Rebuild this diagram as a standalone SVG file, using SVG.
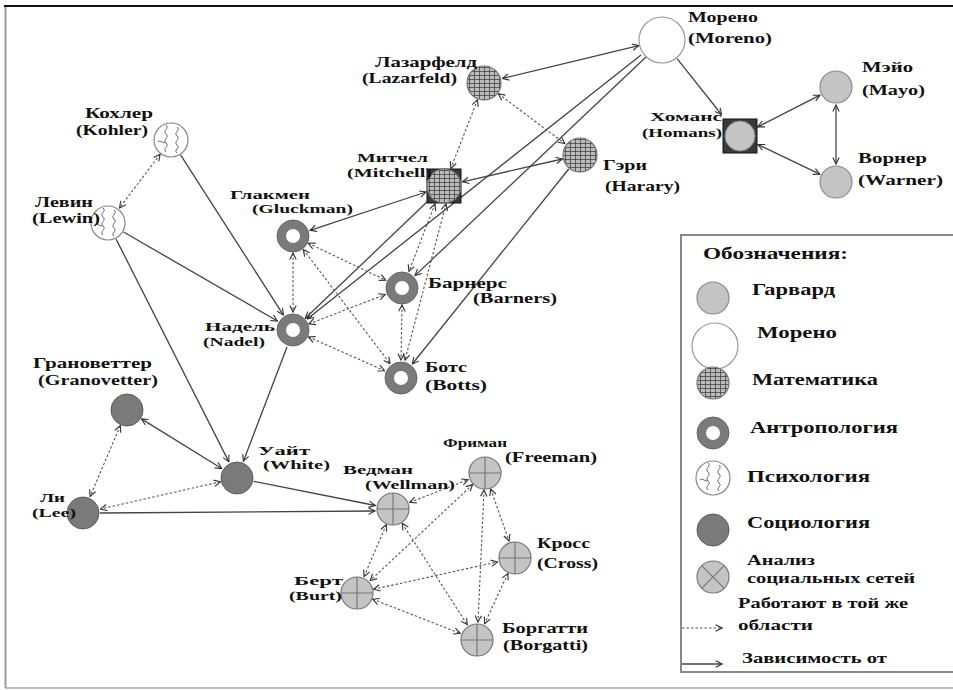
<svg xmlns="http://www.w3.org/2000/svg" width="953" height="690" viewBox="0 0 953 690">
<style>
.lbl{font-family:"Liberation Serif","DejaVu Serif",serif;font-weight:bold;font-size:15px;fill:#111}
.sm{font-size:13.5px}
.leg{font-family:"Liberation Serif","DejaVu Serif",serif;font-weight:bold;font-size:16px;fill:#111}
.dep{stroke:#444;stroke-width:1.3;fill:none}
.same{stroke:#555;stroke-width:1.1;stroke-dasharray:2.5 2;fill:none}
.one{marker-end:url(#ah)}
.two{marker-start:url(#ah);marker-end:url(#ah)}
</style>
<defs>
<marker id="ah" viewBox="0 0 10 10" refX="9" refY="5" markerWidth="8" markerHeight="8" markerUnits="userSpaceOnUse" orient="auto-start-reverse">
<path d="M1,1 L9,5 L1,9" fill="none" stroke="#333" stroke-width="1.4"/>
</marker>
<pattern id="grid" patternUnits="userSpaceOnUse" width="5" height="4">
<rect width="5" height="4" fill="#bcbcbc"/>
<path d="M0,0.5 H5 M0.5,0 V4" stroke="#444" stroke-width="0.8"/>
</pattern>
<g id="s-harv"><circle r="16" fill="#c4c4c4" stroke="#8a8a8a" stroke-width="1.2"/></g>
<g id="s-mor"><circle r="23" fill="#fff" stroke="#999" stroke-width="1.2"/></g>
<g id="s-math"><circle r="17" fill="url(#grid)" stroke="#777" stroke-width="1.2"/></g>
<g id="s-anth"><circle r="16" fill="#7a7a7a" stroke="#666" stroke-width="1"/><circle r="7" fill="#fff"/></g>
<g id="s-psy"><circle r="17" fill="#fff" stroke="#888" stroke-width="1.2"/>
<path d="M-5,-15 c4,3 -4,6 0,9 s-4,6 0,9 s-4,6 0,9" fill="none" stroke="#666" stroke-width="1"/>
<path d="M6,-13 c4,3 -4,6 0,9 s-4,6 0,9 s-4,5 0,8" fill="none" stroke="#666" stroke-width="1"/>
<path d="M-13,2 c3,-3 5,3 8,0" fill="none" stroke="#666" stroke-width="1"/></g>
<g id="s-soc"><circle r="16" fill="#7a7a7a" stroke="#5a5a5a" stroke-width="1"/></g>
<g id="s-sna"><circle r="16" fill="#c4c4c4" stroke="#777" stroke-width="1.2"/><path d="M0,-16 V16 M-16,0 H16" stroke="#777" stroke-width="1.2"/></g>
<g id="s-snax"><circle r="16" fill="#c4c4c4" stroke="#777" stroke-width="1.2"/><path d="M-11.3,-11.3 L11.3,11.3 M-11.3,11.3 L11.3,-11.3" stroke="#777" stroke-width="1.2"/></g>
</defs>
<rect width="953" height="690" fill="#fff"/>
<g id="frame">
<line x1="4" y1="6" x2="953" y2="6" stroke="#111" stroke-width="2.2"/>
<line x1="5.5" y1="7" x2="5.5" y2="688" stroke="#999" stroke-width="2"/>
<line x1="5" y1="688" x2="953" y2="688" stroke="#aaa" stroke-width="1.5"/>
</g>
<g id="connectors">
<line class="dep two" x1="638.7" y1="45.6" x2="502.5" y2="78.5"/>
<line class="dep one" x1="677.1" y1="58.6" x2="721.5" y2="114.5"/>
<line class="dep one" x1="646" y1="57" x2="415" y2="275.6"/>
<line class="dep one" x1="641" y1="55" x2="307.2" y2="318.9"/>
<line class="dep one" x1="568.7" y1="169" x2="412.3" y2="364"/>
<line class="dep two" x1="426" y1="192" x2="310.1" y2="230.3"/>
<line class="dep two" x1="462.5" y1="181.8" x2="562.4" y2="159"/>
<line class="same two" x1="477.5" y1="99.8" x2="450.9" y2="168.3"/>
<line class="same two" x1="498.4" y1="93.8" x2="564.8" y2="143.6"/>
<line class="same two" x1="435" y1="204" x2="408.9" y2="271.4"/>
<line class="same two" x1="446" y1="204" x2="404.9" y2="360.4"/>
<line class="dep one" x1="428" y1="201" x2="305.3" y2="318.3"/>
<line class="same two" x1="293" y1="253" x2="293" y2="312"/>
<line class="same two" x1="308.3" y1="243.3" x2="385.8" y2="280.3"/>
<line class="same two" x1="303.3" y1="249.5" x2="390.1" y2="363.7"/>
<line class="same two" x1="308.9" y1="323.9" x2="385.2" y2="294.5"/>
<line class="same two" x1="308.5" y1="336.9" x2="384.5" y2="370.7"/>
<line class="same two" x1="402" y1="305" x2="401" y2="360"/>
<line class="same two" x1="160.1" y1="154.3" x2="119.5" y2="207.9"/>
<line class="dep one" x1="180.7" y1="155.1" x2="283.3" y2="314.9"/>
<line class="dep one" x1="123.6" y1="232" x2="277.4" y2="321"/>
<line class="dep one" x1="116.1" y1="239.1" x2="228.9" y2="461.9"/>
<line class="dep one" x1="287" y1="347" x2="243.4" y2="461.2"/>
<line class="dep two" x1="141.5" y1="418.9" x2="221.7" y2="468.5"/>
<line class="same two" x1="120.3" y1="425.6" x2="90.1" y2="496.4"/>
<line class="same two" x1="220.4" y1="481.8" x2="100.6" y2="509"/>
<line class="dep one" x1="253.7" y1="481.3" x2="375.3" y2="505.5"/>
<line class="dep one" x1="100" y1="513" x2="375" y2="511"/>
<line class="same two" x1="409.8" y1="502.4" x2="468.2" y2="479.6"/>
<line class="same two" x1="386.3" y1="524.6" x2="364.1" y2="576.5"/>
<line class="same two" x1="402.2" y1="523.3" x2="467.3" y2="624.8"/>
<line class="same two" x1="472.6" y1="484.6" x2="370.1" y2="580.7"/>
<line class="same two" x1="484" y1="490" x2="478" y2="622"/>
<line class="same two" x1="490.7" y1="489" x2="509" y2="541"/>
<line class="same two" x1="373.6" y1="589.3" x2="497.4" y2="561.9"/>
<line class="same two" x1="372.8" y1="599.2" x2="460.2" y2="633.4"/>
<line class="same two" x1="507.9" y1="573.4" x2="484.6" y2="623.7"/>
<line class="dep two" x1="757.8" y1="126.9" x2="820" y2="95.2"/>
<line class="dep two" x1="758" y1="144.6" x2="819.8" y2="174.2"/>
<line class="dep two" x1="836" y1="105" x2="836" y2="164"/>
</g>
<g id="moreno"><use href="#s-mor" x="662" y="40"/>
<text class="lbl" x="688" y="22" textLength="70" lengthAdjust="spacingAndGlyphs">Морено</text>
<text class="lbl" x="688" y="43" textLength="84" lengthAdjust="spacingAndGlyphs">(Moreno)</text></g>
<g id="lazarfeld"><use href="#s-math" x="484" y="83"/>
<text class="lbl" x="375" y="67" textLength="102" lengthAdjust="spacingAndGlyphs">Лазарфелд</text>
<text class="lbl" x="362" y="83" textLength="95" lengthAdjust="spacingAndGlyphs">(Lazarfeld)</text></g>
<g id="mitchell"><rect x="427" y="169" width="34" height="34" fill="#3a3a3a" stroke="#111"/><use href="#s-math" x="444" y="186"/>
<text class="lbl sm" x="357" y="162" textLength="71" lengthAdjust="spacingAndGlyphs">Митчел</text>
<text class="lbl sm" x="347" y="177" textLength="85" lengthAdjust="spacingAndGlyphs">(Mitchell)</text></g>
<g id="harary"><use href="#s-math" x="580" y="155"/>
<text class="lbl" x="603" y="170" textLength="44" lengthAdjust="spacingAndGlyphs">Гэри</text>
<text class="lbl" x="605" y="191" textLength="75" lengthAdjust="spacingAndGlyphs">(Harary)</text></g>
<g id="homans"><rect x="723" y="119" width="34" height="34" fill="#3a3a3a" stroke="#111"/><circle cx="740" cy="136" r="15" fill="#c4c4c4" stroke="#8a8a8a"/>
<text class="lbl sm" x="650" y="121" textLength="72" lengthAdjust="spacingAndGlyphs">Хоманс</text>
<text class="lbl sm" x="642" y="137" textLength="80" lengthAdjust="spacingAndGlyphs">(Homans)</text></g>
<g id="mayo"><use href="#s-harv" x="836" y="87"/>
<text class="lbl" x="862" y="72" textLength="51" lengthAdjust="spacingAndGlyphs">Мэйо</text>
<text class="lbl" x="862" y="95" textLength="63" lengthAdjust="spacingAndGlyphs">(Mayo)</text></g>
<g id="warner"><use href="#s-harv" x="836" y="182"/>
<text class="lbl" x="858" y="163" textLength="69" lengthAdjust="spacingAndGlyphs">Ворнер</text>
<text class="lbl" x="858" y="185" textLength="85" lengthAdjust="spacingAndGlyphs">(Warner)</text></g>
<g id="kohler"><use href="#s-psy" x="171" y="140"/>
<text class="lbl" x="85" y="118" textLength="68" lengthAdjust="spacingAndGlyphs">Кохлер</text>
<text class="lbl" x="76" y="135" textLength="72" lengthAdjust="spacingAndGlyphs">(Kohler)</text></g>
<g id="lewin"><use href="#s-psy" x="108" y="223"/>
<text class="lbl" x="35" y="207" textLength="58" lengthAdjust="spacingAndGlyphs">Левин</text>
<text class="lbl" x="32" y="223" textLength="68" lengthAdjust="spacingAndGlyphs">(Lewin)</text></g>
<g id="gluckman"><use href="#s-anth" x="293" y="236"/>
<text class="lbl sm" x="230" y="199" textLength="80" lengthAdjust="spacingAndGlyphs">Глакмен</text>
<text class="lbl sm" x="252" y="213" textLength="101" lengthAdjust="spacingAndGlyphs">(Gluckman)</text></g>
<g id="nadel"><use href="#s-anth" x="293" y="330"/>
<text class="lbl sm" x="205" y="331" textLength="70" lengthAdjust="spacingAndGlyphs">Надель</text>
<text class="lbl sm" x="203" y="346" textLength="62" lengthAdjust="spacingAndGlyphs">(Nadel)</text></g>
<g id="barners"><use href="#s-anth" x="402" y="288"/>
<text class="lbl" x="428" y="288" textLength="79" lengthAdjust="spacingAndGlyphs">Барнерс</text>
<text class="lbl" x="473" y="303" textLength="84" lengthAdjust="spacingAndGlyphs">(Barners)</text></g>
<g id="botts"><use href="#s-anth" x="401" y="378"/>
<text class="lbl" x="425" y="372" textLength="42" lengthAdjust="spacingAndGlyphs">Ботс</text>
<text class="lbl" x="425" y="390" textLength="62" lengthAdjust="spacingAndGlyphs">(Botts)</text></g>
<g id="granovetter"><use href="#s-soc" x="127" y="410"/>
<text class="lbl" x="33" y="368" textLength="119" lengthAdjust="spacingAndGlyphs">Грановеттер</text>
<text class="lbl" x="38" y="385" textLength="120" lengthAdjust="spacingAndGlyphs">(Granovetter)</text></g>
<g id="white"><use href="#s-soc" x="237" y="478"/>
<text class="lbl sm" x="258" y="455" textLength="52" lengthAdjust="spacingAndGlyphs">Уайт</text>
<text class="lbl sm" x="263" y="469" textLength="67" lengthAdjust="spacingAndGlyphs">(White)</text></g>
<g id="lee"><use href="#s-soc" x="83" y="513"/>
<text class="lbl sm" x="40" y="502" textLength="25" lengthAdjust="spacingAndGlyphs">Ли</text>
<text class="lbl sm" x="32" y="517" textLength="44" lengthAdjust="spacingAndGlyphs">(Lee)</text></g>
<g id="wellman"><use href="#s-sna" x="393" y="509"/>
<text class="lbl sm" x="343" y="474" textLength="70" lengthAdjust="spacingAndGlyphs">Ведман</text>
<text class="lbl sm" x="365" y="489" textLength="90" lengthAdjust="spacingAndGlyphs">(Wellman)</text></g>
<g id="freeman"><use href="#s-sna" x="485" y="473"/>
<text class="lbl sm" x="443" y="447" textLength="64" lengthAdjust="spacingAndGlyphs">Фриман</text>
<text class="lbl" x="505" y="462" textLength="92" lengthAdjust="spacingAndGlyphs">(Freeman)</text></g>
<g id="cross"><use href="#s-sna" x="515" y="558"/>
<text class="lbl" x="537" y="548" textLength="53" lengthAdjust="spacingAndGlyphs">Кросс</text>
<text class="lbl" x="537" y="568" textLength="61" lengthAdjust="spacingAndGlyphs">(Cross)</text></g>
<g id="burt"><use href="#s-sna" x="357" y="593"/>
<text class="lbl sm" x="294" y="585" textLength="49" lengthAdjust="spacingAndGlyphs">Берт</text>
<text class="lbl sm" x="289" y="600" textLength="53" lengthAdjust="spacingAndGlyphs">(Burt)</text></g>
<g id="borgatti"><use href="#s-sna" x="477" y="640"/>
<text class="lbl" x="502" y="633" textLength="86" lengthAdjust="spacingAndGlyphs">Боргатти</text>
<text class="lbl" x="503" y="650" textLength="85" lengthAdjust="spacingAndGlyphs">(Borgatti)</text></g>
<g id="legend">
<rect x="681" y="235" width="280" height="437" fill="#fff" stroke="#888" stroke-width="2"/>
<text class="leg" x="703" y="259" textLength="145" lengthAdjust="spacingAndGlyphs">Обозначения:</text>
<use href="#s-harv" x="713" y="298"/>
<text class="leg" x="752" y="295" textLength="83" lengthAdjust="spacingAndGlyphs">Гарвард</text>
<use href="#s-mor" x="715" y="346"/>
<text class="leg" x="757" y="338" textLength="80" lengthAdjust="spacingAndGlyphs">Морено</text>
<circle cx="713" cy="383" r="16" fill="url(#grid)" stroke="#777" stroke-width="1.2"/>
<text class="leg" x="752" y="385" textLength="126" lengthAdjust="spacingAndGlyphs">Математика</text>
<use href="#s-anth" x="713" y="433"/>
<text class="leg" x="750" y="433" textLength="148" lengthAdjust="spacingAndGlyphs">Антропология</text>
<use href="#s-psy" x="713" y="478"/>
<text class="leg" x="747" y="482" textLength="123" lengthAdjust="spacingAndGlyphs">Психология</text>
<use href="#s-soc" x="713" y="530"/>
<text class="leg" x="747" y="528" textLength="123" lengthAdjust="spacingAndGlyphs">Социология</text>
<use href="#s-snax" x="713" y="577"/>
<text class="leg" x="747" y="565" style="font-size:14px" textLength="68" lengthAdjust="spacingAndGlyphs">Анализ</text>
<text class="leg" x="747" y="583" style="font-size:14px" textLength="168" lengthAdjust="spacingAndGlyphs">социальных сетей</text>
<line class="same one" x1="682" y1="628" x2="722" y2="628"/>
<text class="leg" x="738" y="608" style="font-size:15px" textLength="170" lengthAdjust="spacingAndGlyphs">Работают в той же</text>
<text class="leg" x="738" y="630" style="font-size:15px" textLength="75" lengthAdjust="spacingAndGlyphs">области</text>
<line class="dep one" x1="682" y1="664" x2="722" y2="664"/>
<text class="leg" x="742" y="663" style="font-size:15px" textLength="145" lengthAdjust="spacingAndGlyphs">Зависимость от</text>
</g>
</svg>
